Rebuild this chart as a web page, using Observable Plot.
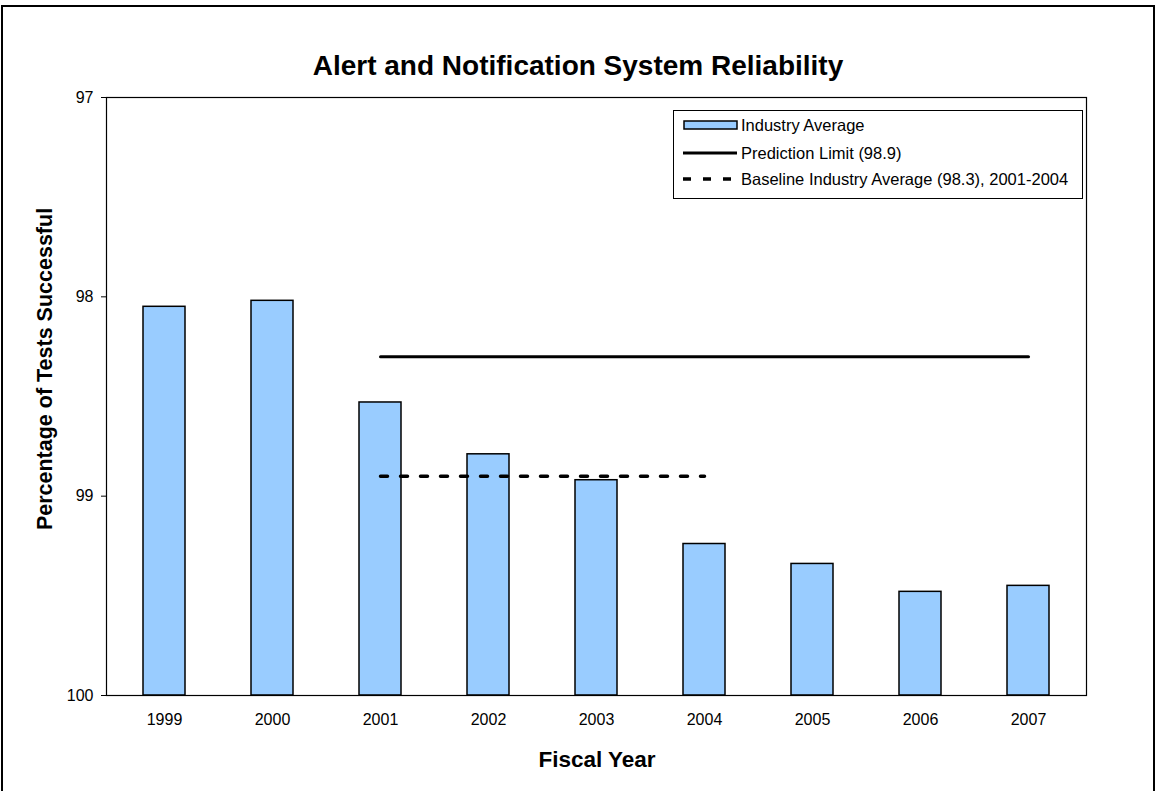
<!DOCTYPE html>
<html>
<head>
<meta charset="utf-8">
<script src="https://cdn.jsdelivr.net/npm/d3@7"></script>
<script src="https://cdn.jsdelivr.net/npm/@observablehq/plot@0.6"></script>
<style>
  html, body { margin: 0; padding: 0; background: #fff; }
  #page { position: relative; width: 1156px; height: 791px; overflow: hidden; font-family: "Liberation Sans", Arial, sans-serif; color: #000; }
  #chart { position: absolute; left: 0; top: 0; }
  #outer { position: absolute; left: 1px; top: 5px; width: 1150px; height: 900px; border: 2px solid #000; pointer-events: none; }
  #title { position: absolute; left: 0; width: 1156px; top: 50px; text-align: center; font-weight: bold; font-size: 28px; line-height: 32px; }
  #ytitle { position: absolute; left: 45px; top: 369px; transform: translate(-50%, -50%) rotate(-90deg); white-space: nowrap; font-weight: bold; font-size: 21.5px; }
  #xtitle { position: absolute; left: 597px; top: 760px; transform: translate(-50%, -50%); white-space: nowrap; font-weight: bold; font-size: 22.5px; }
  #legend { position: absolute; left: 673px; top: 110px; width: 408px; height: 87px; border: 1px solid #000; background: #fff; }
  .row { position: absolute; left: 9px; height: 20px; display: flex; align-items: center; font-size: 16.5px; white-space: nowrap; }
  .row svg { margin-right: 2px; }
</style>
</head>
<body>
<div id="page">
  <div id="chart"></div>
  <div id="outer"></div>
  <div id="title">Alert and Notification System Reliability</div>
  <div id="ytitle">Percentage of Tests Successful</div>
  <div id="xtitle">Fiscal Year</div>
  <div id="legend"></div>
</div>
<script>
// ---- data ----
const years = ["1999", "2000", "2001", "2002", "2003", "2004", "2005", "2006", "2007"];
const industryAverage = [98.05, 98.02, 98.53, 98.79, 98.92, 99.24, 99.34, 99.48, 99.45];
const predictionYears = ["2001", "2007"];
const predictionValue = 98.30;
const baselineYears = ["2001", "2004"];
const baselineValue = 98.90;
const yTicks = [97, 98, 99, 100];
const legendLabels = ["Industry Average", "Prediction Limit (98.9)", "Baseline Industry Average (98.3), 2001-2004"];

const barColor = "#99CCFF";

const bars = years.map((year, i) => ({year, value: industryAverage[i]}));
const prediction = predictionYears.map(year => ({year, value: predictionValue}));
const baseline = baselineYears.map(year => ({year, value: baselineValue}));

const chart = Plot.plot({
  width: 1156,
  height: 791,
  marginLeft: 106,
  marginRight: 70,
  marginTop: 97,
  marginBottom: 96,
  style: {fontFamily: "'Liberation Sans', Arial, sans-serif", fontSize: "16px", color: "#000", background: "transparent", overflow: "visible"},
  x: {domain: years, padding: 0, label: null},
  y: {domain: [97, 100], reverse: true, label: null},
  marks: [
    Plot.barY(bars, {x: "year", y1: 100, y2: "value", fill: barColor, stroke: "#000", strokeWidth: 1.5, insetLeft: 33, insetRight: 33}),
    Plot.lineY(prediction, {x: "year", y: "value", stroke: "#000", strokeWidth: 3}),
    Plot.lineY(baseline, {x: "year", y: "value", stroke: "#000", strokeWidth: 3.5, strokeDasharray: "7,13"}),
    Plot.frame({stroke: "#000", strokeWidth: 1.2}),
    Plot.axisX({tickSize: 0, tickPadding: 18, fontSize: 16, label: null}),
    Plot.axisY({ticks: yTicks, tickSize: 5, tickPadding: 8, fontSize: 16, tickFormat: d => String(d), label: null, stroke: "#000"})
  ]
});
document.getElementById("chart").appendChild(chart);

// ---- legend ----
const legend = document.getElementById("legend");
const swatches = [
  `<svg width="56" height="12"><rect x="1" y="2" width="53" height="8" fill="${barColor}" stroke="#000" stroke-width="1.5"/></svg>`,
  `<svg width="56" height="12"><line x1="0" x2="54" y1="6" y2="6" stroke="#000" stroke-width="3"/></svg>`,
  `<svg width="56" height="12"><line x1="0" x2="54" y1="6" y2="6" stroke="#000" stroke-width="3.5" stroke-dasharray="8,12"/></svg>`
];
const rowTops = [4, 32, 58];
legendLabels.forEach((label, i) => {
  const row = document.createElement("div");
  row.className = "row";
  row.style.top = rowTops[i] + "px";
  row.innerHTML = swatches[i] + `<span>${label}</span>`;
  legend.appendChild(row);
});
</script>
</body>
</html>
